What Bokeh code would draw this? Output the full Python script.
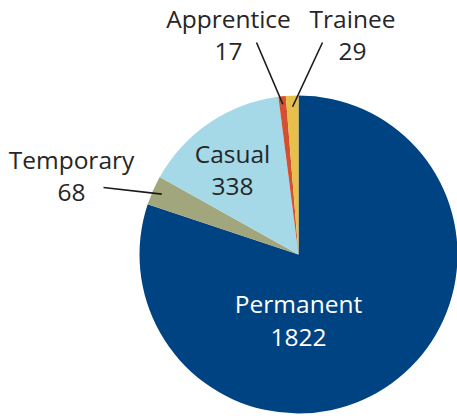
import math
from bokeh.plotting import figure
from bokeh.models import Range1d
from bokeh.core.properties import value
from bokeh.embed import file_html
from bokeh.resources import INLINE

categories = ["Permanent", "Temporary", "Casual", "Apprentice", "Trainee"]
counts = [1822, 68, 338, 17, 29]
colors = ["#004382", "#A1A67D", "#A6D9E8", "#D4512F", "#E8BF4A"]

W, H = 457, 416
CX, CY, R = 298, H - 254, 159

p = figure(width=W, height=H, output_backend="svg", toolbar_location=None,
           x_range=Range1d(0, W), y_range=Range1d(0, H), min_border=0)
p.axis.visible = False
p.grid.visible = False
p.outline_line_color = None
p.background_fill_color = "white"

total = sum(counts)
starts, ends, mids = [], [], []
acc = 0.0
for c in counts:
    a0 = acc / total * 2 * math.pi
    acc += c
    a1 = acc / total * 2 * math.pi
    starts.append(math.pi / 2 - a0)
    ends.append(math.pi / 2 - a1)
    mids.append(math.pi / 2 - (a0 + a1) / 2)

p.wedge(x=[CX] * len(counts), y=[CY] * len(counts), radius=R,
        start_angle=starts, end_angle=ends, direction="clock",
        fill_color=colors, line_color=None)

font = value("Open Sans")
fs = "24.5px"
# label layout: (x center, line1 middle, line2 middle, color)
layout = {
    "Permanent": (298, 303, 337, "white"),
    "Temporary": (71, 159, 192, "#262626"),
    "Casual": (232, 153, 186, "#262626"),
    "Apprentice": (228, 18, 51, "#262626"),
    "Trainee": (352, 18, 51, "#262626"),
}
for cat, cnt in zip(categories, counts):
    x, b1, b2, col = layout[cat]
    p.text(x=[x, x], y=[H - b1, H - b2], text=[cat, str(cnt)],
           text_font=font, text_font_size=fs, text_color=col,
           text_align="center", text_baseline="middle")

# leader lines (outer label end -> point inside slice)
leaders = {
    "Temporary": ((103, 187), 0.94),
    "Apprentice": ((256, 42), 0.95),
    "Trainee": ((322, 42), 0.93),
}
for cat, ((lx, ly), fr) in leaders.items():
    i = categories.index(cat)
    px = CX + R * fr * math.cos(mids[i])
    py = CY + R * fr * math.sin(mids[i])
    p.line(x=[lx, px], y=[H - ly, py], line_color="#1a1a1a", line_width=1.6)

open("out.html", "w").write(file_html(p, INLINE))
